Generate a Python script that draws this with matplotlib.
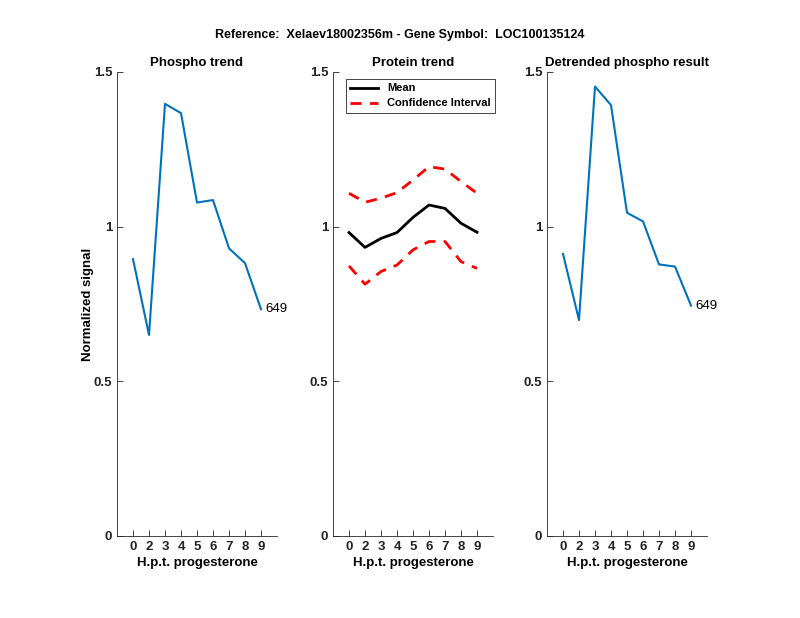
import matplotlib
matplotlib.use("Agg")
import matplotlib.pyplot as plt

plt.rcParams['font.family'] = ['Liberation Sans', 'DejaVu Sans']
plt.rcParams['font.weight'] = 'bold'

# time points (h.p.t. progesterone)
tick_labels = ['0', '2', '3', '4', '5', '6', '7', '8', '9']
xpos = [1, 2, 3, 4, 5, 6, 7, 8, 9]

phospho = [0.895, 0.650, 1.397, 1.367, 1.078, 1.086, 0.930, 0.882, 0.733]
prot_mean = [0.981, 0.933, 0.962, 0.981, 1.030, 1.070, 1.059, 1.011, 0.982]
prot_upper = [1.108, 1.079, 1.092, 1.110, 1.151, 1.194, 1.186, 1.146, 1.108]
prot_lower = [0.873, 0.814, 0.855, 0.876, 0.925, 0.952, 0.952, 0.887, 0.865]
detrended = [0.912, 0.698, 1.453, 1.393, 1.045, 1.017, 0.878, 0.871, 0.745]
peptide_id = '649'

blue = '#0072BD'
axcol = '#262626'

fig = plt.figure(figsize=(8, 6.18), dpi=100)
fig.suptitle('Reference:  Xelaev18002356m - Gene Symbol:  LOC100135124',
             fontsize=9, fontweight='bold', y=0.953)

lefts = [117/800, 333/800, 547/800]
w = 160/800
b = 1 - 536/618
h = (536 - 72)/618
titles = ['Phospho trend', 'Protein trend', 'Detrended phospho result']

axes = []
for i in range(3):
    ax = fig.add_axes([lefts[i], b, w, h])
    ax.set_xlim(0, 10)
    ax.set_ylim(0, 1.5)
    ax.set_xticks(xpos)
    ax.set_xticklabels(tick_labels)
    ax.set_yticks([0, 0.5, 1, 1.5])
    ax.set_yticklabels(['0', '0.5', '1', '1.5'])
    ax.spines['top'].set_visible(False)
    ax.spines['right'].set_visible(False)
    for s in ['left', 'bottom']:
        ax.spines[s].set_color(axcol)
        ax.spines[s].set_linewidth(0.6)
    ax.tick_params(direction='in', length=4, width=0.6, colors=axcol,
                   labelsize=9.5, labelcolor='#222222')
    ax.set_title(titles[i], fontsize=9.5, fontweight='bold', pad=4)
    ax.set_xlabel('H.p.t. progesterone', fontsize=9.5, fontweight='bold', labelpad=3)
    axes.append(ax)

axes[0].set_ylabel('Normalized signal', fontsize=9.5, fontweight='bold', labelpad=0)

axes[0].plot(xpos, phospho, color=blue, lw=1.5)
axes[0].text(xpos[-1] + 0.3, phospho[-1], peptide_id, fontsize=9.5,
             fontweight='normal', va='center', ha='left')

axes[1].plot(xpos, prot_mean, color='black', lw=2, label='Mean')
axes[1].plot(xpos, prot_upper, color='red', lw=2, ls=(0, (4, 3)), label='Confidence Interval')
axes[1].plot(xpos, prot_lower, color='red', lw=2, ls=(0, (4, 3)))
leg = axes[1].legend(loc='upper left', bbox_to_anchor=(0.08, 0.985), fontsize=8,
                     frameon=True, fancybox=False, framealpha=1, borderpad=0.4,
                     handlelength=2.5, labelspacing=0.45, borderaxespad=0)
leg.get_frame().set_edgecolor(axcol)
leg.get_frame().set_linewidth(0.6)

axes[2].plot(xpos, detrended, color=blue, lw=1.5)
axes[2].text(xpos[-1] + 0.3, detrended[-1], peptide_id, fontsize=9.5,
             fontweight='normal', va='center', ha='left')

fig.savefig('out.png', dpi=100)
